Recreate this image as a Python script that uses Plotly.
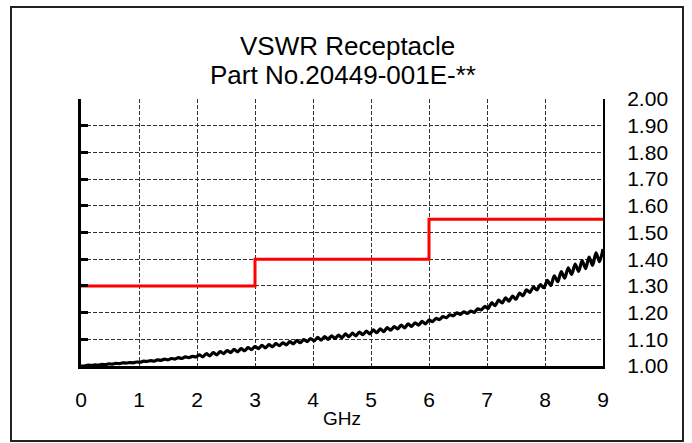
import numpy as np
import plotly.graph_objects as go

# ---- data ----
freq_ghz = np.linspace(0, 9, 151)  # sweep frequency grid (GHz)
vswr_measured = [
    1.000, 1.000, 1.003, 1.002, 1.004, 1.003, 1.006, 1.005, 1.008, 1.007,
    1.010, 1.009, 1.012, 1.011, 1.013, 1.012, 1.015, 1.014, 1.018, 1.017,
    1.020, 1.018, 1.023, 1.021, 1.026, 1.023, 1.028, 1.026, 1.031, 1.028,
    1.034, 1.031, 1.036, 1.034, 1.042, 1.034, 1.046, 1.038, 1.050, 1.042,
    1.054, 1.046, 1.058, 1.050, 1.062, 1.053, 1.065, 1.057, 1.069, 1.061,
    1.073, 1.065, 1.077, 1.068, 1.080, 1.072, 1.084, 1.076, 1.087, 1.079,
    1.091, 1.083, 1.095, 1.087, 1.099, 1.091, 1.103, 1.094, 1.107, 1.097,
    1.110, 1.100, 1.113, 1.103, 1.116, 1.106, 1.120, 1.110, 1.123, 1.113,
    1.127, 1.117, 1.131, 1.120, 1.135, 1.125, 1.139, 1.129, 1.144, 1.134,
    1.148, 1.139, 1.153, 1.143, 1.158, 1.148, 1.162, 1.153, 1.167, 1.158,
    1.172, 1.166, 1.178, 1.174, 1.185, 1.181, 1.192, 1.188, 1.199, 1.193,
    1.203, 1.197, 1.206, 1.201, 1.214, 1.210, 1.223, 1.216, 1.237, 1.226,
    1.247, 1.236, 1.255, 1.243, 1.262, 1.250, 1.273, 1.263, 1.285, 1.276,
    1.296, 1.285, 1.305, 1.293, 1.321, 1.301, 1.338, 1.316, 1.354, 1.329,
    1.368, 1.343, 1.382, 1.354, 1.395, 1.365, 1.408, 1.377, 1.424, 1.391,
    1.438,
]
limit_band_edges = [0, 3, 6, 9]
limit_values = [1.30, 1.40, 1.55, 1.55]
x_ticks = [0, 1, 2, 3, 4, 5, 6, 7, 8, 9]
y_ticks = [1.00, 1.10, 1.20, 1.30, 1.40, 1.50, 1.60, 1.70, 1.80, 1.90, 2.00]
title_lines = ["VSWR Receptacle", "Part No.20449-001E-**"]
x_title = "GHz"

FONT = "Liberation Sans, Arial, sans-serif"
L, R, T, B = 81, 89, 99, 77
W, H = 692, 443
PW, PH = W - L - R, H - T - B

def px_x(p):
    return (p - L) / PW

def px_y(p):
    return (H - B - p) / PH

fig = go.Figure()
fig.add_trace(go.Scatter(
    x=freq_ghz, y=vswr_measured, mode="lines",
    line=dict(color="black", width=3.2, shape="spline", smoothing=0.8),
    hoverinfo="skip",
))
fig.add_trace(go.Scatter(
    x=limit_band_edges, y=limit_values, mode="lines", yaxis="y2",
    line=dict(color="#ff0000", width=3, shape="hv"),
    hoverinfo="skip",
))

grid = dict(showgrid=True, gridcolor="#333333", gridwidth=1, griddash="4px,2px")

fig.update_layout(
    width=W, height=H,
    margin=dict(l=L, r=R, t=T, b=B),
    paper_bgcolor="white", plot_bgcolor="white",
    showlegend=False,
    font=dict(family=FONT, color="black"),
    xaxis=dict(
        range=[0, 9], tickvals=x_ticks, ticktext=[str(v) for v in x_ticks],
        showline=True, linecolor="black", linewidth=3,
        ticks="", ticklabelstandoff=13, tickfont=dict(size=21, family=FONT),
        zeroline=False, **grid,
    ),
    yaxis=dict(
        range=[1, 2], tickvals=y_ticks, ticktext=[f"{v:.2f}" for v in y_ticks],
        side="right", showline=True, linecolor="black", linewidth=2,
        ticks="", ticklabelstandoff=18, tickfont=dict(size=21, family=FONT),
        zeroline=False, **grid,
    ),
    yaxis2=dict(
        range=[1, 2], tickvals=y_ticks, overlaying="y", side="left",
        showline=True, linecolor="black", linewidth=3,
        ticks="inside", ticklen=7, tickwidth=3, tickcolor="black",
        showticklabels=False, showgrid=False, zeroline=False,
    ),
    shapes=[dict(
        type="rect", xref="paper", yref="paper",
        x0=px_x(11), x1=px_x(683), y0=px_y(441), y1=px_y(7),
        line=dict(color="#222222", width=2), fillcolor="rgba(0,0,0,0)",
    )],
    annotations=[
        dict(text=title_lines[0], xref="paper", yref="paper",
             x=px_x(347), y=px_y(46), showarrow=False,
             xanchor="center", yanchor="middle",
             font=dict(size=26, family=FONT, color="black")),
        dict(text=title_lines[1], xref="paper", yref="paper",
             x=px_x(343), y=px_y(75), showarrow=False,
             xanchor="center", yanchor="middle",
             font=dict(size=26, family=FONT, color="black")),
        dict(text=x_title, xref="x", yref="paper",
             x=4.5, y=px_y(418), showarrow=False,
             xanchor="center", yanchor="middle",
             font=dict(size=19, family=FONT, color="black")),
    ],
)

fig.write_html(
    "out.html",
    config={"displayModeBar": False, "staticPlot": True},
    post_script="document.body.style.margin='0';document.body.style.overflow='hidden';",
)
